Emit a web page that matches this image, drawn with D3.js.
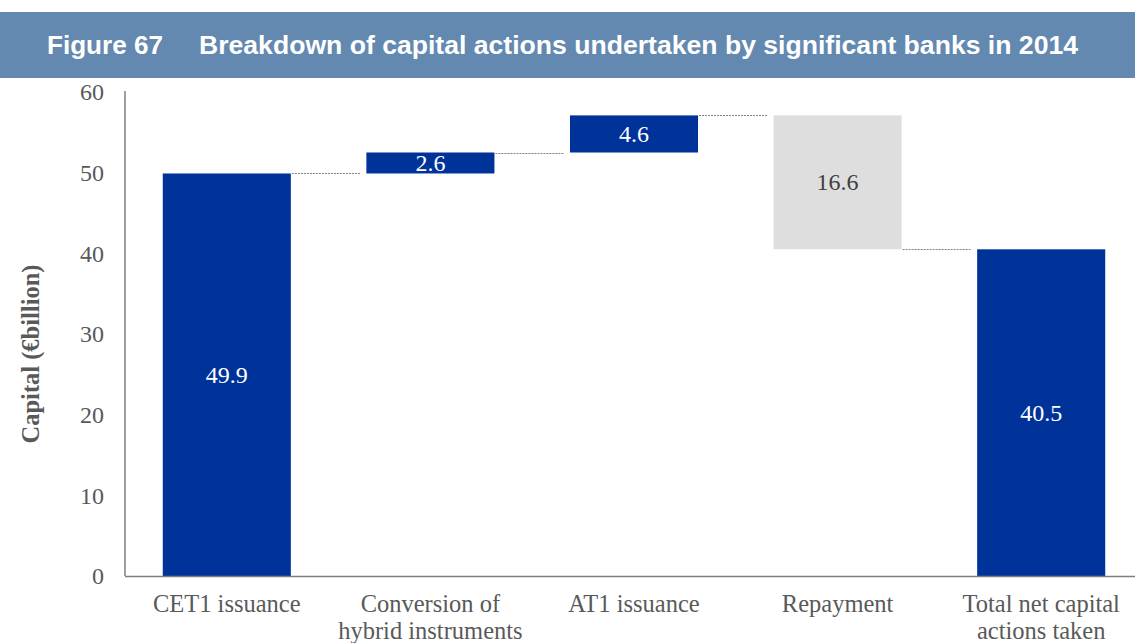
<!DOCTYPE html>
<html><head><meta charset="utf-8">
<script src="https://cdn.jsdelivr.net/npm/d3@7"></script>
<style>body{margin:0;background:#fff}svg{display:block}</style>
</head><body>
<svg id="chart" width="1135" height="643"></svg>
<script>
const categories = [["CET1 issuance"],["Conversion of","hybrid instruments"],["AT1 issuance"],["Repayment"],["Total net capital","actions taken"]];
const values = [49.9, 2.6, 4.6, -16.6, 40.5];
const isTotal = [false, false, false, false, true];
const yTicks = [0,10,20,30,40,50,60];

const svg = d3.select("#chart");
const W = 1135, H = 643;

// Title band
svg.append("rect").attr("x",0).attr("y",12).attr("width",W).attr("height",66).attr("fill","#6389b0");
svg.append("text").attr("x",47).attr("y",54).attr("fill","#fff")
  .style("font-family","'Liberation Sans', Arial, sans-serif").style("font-weight","bold").style("font-size","26px")
  .attr("textLength",116).attr("lengthAdjust","spacingAndGlyphs")
  .text("Figure 67");
svg.append("text").attr("x",199).attr("y",54).attr("fill","#fff")
  .style("font-family","'Liberation Sans', Arial, sans-serif").style("font-weight","bold").style("font-size","26px")
  .attr("textLength",879).attr("lengthAdjust","spacingAndGlyphs")
  .text("Breakdown of capital actions undertaken by significant banks in 2014");

const x0 = 125, xEnd = 1143;
const y = d3.scaleLinear().domain([0,60]).range([576,92]);
const keys = categories.map((c,i)=>i);
const x = d3.scaleBand().domain(keys).range([x0,xEnd]).paddingInner(0.371).paddingOuter(0.1855);

// compute waterfall
let run = 0;
const bars = values.map((v,i)=>{
  let start, end;
  if (isTotal[i] || i===0) { start = 0; end = v; run = v; }
  else { start = run; end = run + v; run = end; }
  return {i, v, start, end, lo: Math.min(start,end), hi: Math.max(start,end)};
});

const font = "'Liberation Serif', 'Times New Roman', serif";

// connectors
for (let i=0;i<bars.length-1;i++){
  const lvl = bars[i].end;
  svg.append("line")
    .attr("x1", x(i)+x.bandwidth()+1).attr("x2", x(i+1)-6)
    .attr("y1", Math.round(y(lvl))+0.5).attr("y2", Math.round(y(lvl))+0.5)
    .attr("stroke","#808080").attr("stroke-width",1).attr("stroke-dasharray","2,1");
}

// bars
svg.selectAll("rect.bar").data(bars).enter().append("rect")
  .attr("class","bar")
  .attr("x", d=>x(d.i)).attr("width", x.bandwidth())
  .attr("y", d=>y(d.hi)).attr("height", d=>y(d.lo)-y(d.hi))
  .attr("fill", d=>d.v<0 ? "#dedede" : "#003399");

// value labels
svg.selectAll("text.val").data(bars).enter().append("text")
  .attr("x", d=>x(d.i)+x.bandwidth()/2)
  .attr("y", d=>(y(d.lo)+y(d.hi))/2)
  .attr("dy","0.33em").attr("text-anchor","middle")
  .attr("fill", d=>d.v<0 ? "#404040" : "#fff")
  .style("font-family",font).style("font-size","24px")
  .text(d=>Math.abs(d.v).toFixed(1));

// y axis
const yAxis = d3.axisLeft(y).tickValues(yTicks).tickSize(0).tickPadding(21);
const gy = svg.append("g").attr("transform",`translate(${x0},0)`).call(yAxis);
gy.select(".domain").attr("stroke","#7f7f7f").attr("stroke-width",1.5).attr("d",`M0,${y(60)-1}V${y(0)}`);
gy.selectAll("text").style("font-family",font).style("font-size","24px").attr("fill","#595959");

// x axis line
svg.append("line").attr("x1",x0).attr("x2",W).attr("y1",576.5).attr("y2",576.5)
  .attr("stroke","#7f7f7f").attr("stroke-width",1.5);

// category labels
categories.forEach((lines,i)=>{
  const t = svg.append("text").attr("text-anchor","middle")
    .attr("x", x(i)+x.bandwidth()/2).attr("y", 612)
    .style("font-family",font).style("font-size","24.5px").attr("fill","#595959");
  lines.forEach((l,j)=>t.append("tspan").attr("x", x(i)+x.bandwidth()/2).attr("dy", j===0?0:27).text(l));
});

// y title
svg.append("text").attr("transform","translate(39,354) rotate(-90)").attr("text-anchor","middle")
  .style("font-family",font).style("font-size","24.5px").style("font-weight","bold").attr("fill","#595959")
  .text("Capital (€billion)");
</script>
</body></html>
